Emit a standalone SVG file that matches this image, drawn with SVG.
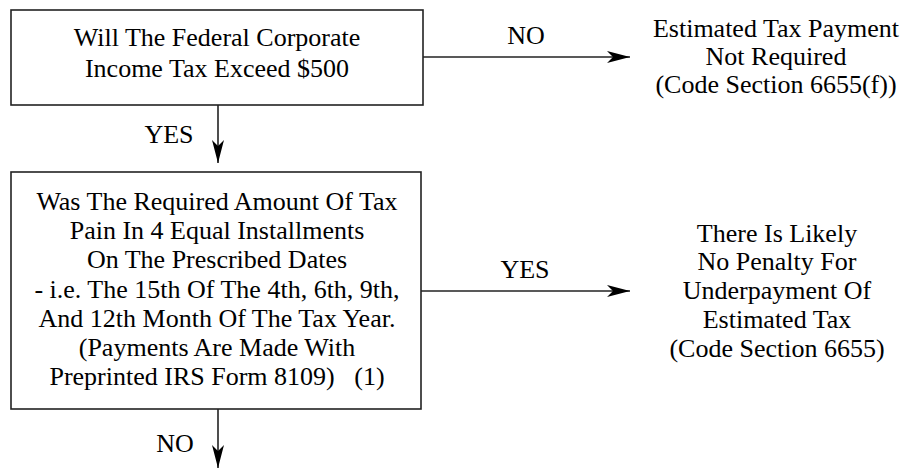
<svg xmlns="http://www.w3.org/2000/svg" width="908" height="470" viewBox="0 0 908 470">
<defs>
<marker id="ah" markerUnits="userSpaceOnUse" markerWidth="24" markerHeight="12" refX="23" refY="6" orient="auto">
<path d="M0,0 L23,6 L0,12 L6,6 z" fill="#000"/>
</marker>
</defs>
<rect width="908" height="470" fill="#fff"/>
<g id="connectors" stroke="#222" stroke-width="1.6" fill="none">
<line x1="423" y1="57" x2="630" y2="57" marker-end="url(#ah)"/>
<line x1="218" y1="105" x2="218" y2="163" marker-end="url(#ah)"/>
<line x1="421" y1="291" x2="630" y2="291" marker-end="url(#ah)"/>
<line x1="218" y1="409" x2="218" y2="468" marker-end="url(#ah)"/>
</g>
<g id="edge-labels" font-family="Times New Roman, Times, Liberation Serif, serif" font-size="26" text-anchor="middle" fill="#000">
<text x="526" y="44">NO</text>
<text x="169" y="143">YES</text>
<text x="525" y="278">YES</text>
<text x="175" y="452">NO</text>
</g>
<g id="q1">
<rect x="11" y="10" width="412" height="95" fill="#fff" stroke="#222" stroke-width="1.6"/>
<g font-family="Times New Roman, Times, Liberation Serif, serif" font-size="26" text-anchor="middle" fill="#000">
<text x="217" y="46">Will The Federal Corporate</text>
<text x="217" y="77">Income Tax Exceed $500</text>
</g>
</g>
<g id="q2">
<rect x="11" y="172" width="410" height="237" fill="#fff" stroke="#222" stroke-width="1.6"/>
<g font-family="Times New Roman, Times, Liberation Serif, serif" font-size="26" text-anchor="middle" fill="#000">
<text x="217" y="210">Was The Required Amount Of Tax</text>
<text x="217" y="239">Pain In 4 Equal Installments</text>
<text x="217" y="268">On The Prescribed Dates</text>
<text x="217" y="298">- i.e. The 15th Of The 4th, 6th, 9th,</text>
<text x="217" y="327">And 12th Month Of The Tax Year.</text>
<text x="217" y="356">(Payments Are Made With</text>
<text x="217" y="385" xml:space="preserve">Preprinted IRS Form 8109)   (1)</text>
</g>
</g>
<g id="r1" font-family="Times New Roman, Times, Liberation Serif, serif" font-size="26" text-anchor="middle" fill="#000">
<text x="776" y="37">Estimated Tax Payment</text>
<text x="776" y="65">Not Required</text>
<text x="776" y="93">(Code Section 6655(f))</text>
</g>
<g id="r2" font-family="Times New Roman, Times, Liberation Serif, serif" font-size="26" text-anchor="middle" fill="#000">
<text x="777" y="242">There Is Likely</text>
<text x="777" y="270">No Penalty For</text>
<text x="777" y="299">Underpayment Of</text>
<text x="777" y="328">Estimated Tax</text>
<text x="777" y="357">(Code Section 6655)</text>
</g>
</svg>
